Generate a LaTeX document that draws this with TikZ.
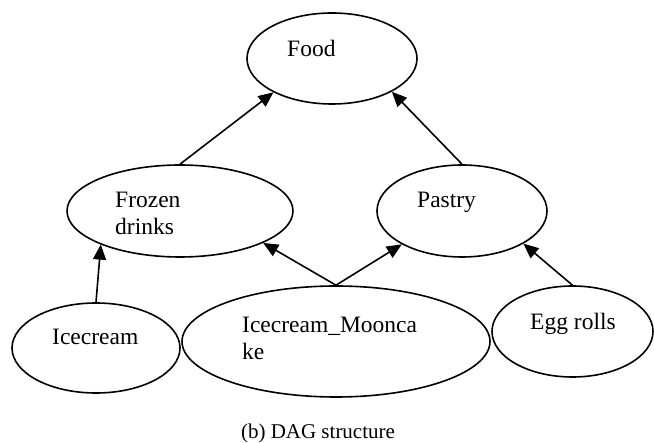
\documentclass[tikz,border=0pt]{standalone}
\usepackage{fontspec}
\setmainfont{Liberation Serif}
\usetikzlibrary{shapes.geometric,arrows.meta}
\tikzset{
  ell/.style={draw, ellipse, inner sep=0pt, line width=1.6pt},
  lbl/.style={anchor=base west, inner sep=0pt, font=\fontsize{23.5}{27}\selectfont},
  arr/.style={line width=1.6pt, -{Triangle[length=15pt,width=13pt]}}
}
\begin{document}
\begin{tikzpicture}[x=1pt,y=-1pt]
\useasboundingbox (0,0) rectangle (654,443);
% ellipses
\node[ell, minimum width=170pt, minimum height=91pt] (food) at (332,58.5) {};
\node[ell, minimum width=226pt, minimum height=92pt] (frozen) at (180,211) {};
\node[ell, minimum width=170pt, minimum height=92pt] (pastry) at (462,211) {};
\node[ell, minimum width=168pt, minimum height=90pt] (ice) at (96,348) {};
\node[ell, minimum width=308pt, minimum height=111pt] (moon) at (336,341.5) {};
\node[ell, minimum width=161pt, minimum height=91pt] (egg) at (572.5,331.5) {};
% labels
\node[lbl] (tfood) at (287,57) {Food};
\node[lbl] (tfrozen1) at (115,208) {Frozen};
\node[lbl] (tfrozen2) at (115,235) {drinks};
\node[lbl] (tpastry) at (417,208) {Pastry};
\node[lbl] (tice) at (52,345) {Icecream};
\node[lbl] (tmoon1) at (242,333) {Icecream\_Moonca};
\node[lbl] (tmoon2) at (242,360) {ke};
\node[lbl] (tegg) at (530,330) {Egg rolls};
\node[anchor=base, inner sep=0pt, font=\fontsize{21}{24}\selectfont] (cap) at (318,439) {(b) DAG structure};
% arrows
\draw[arr] (frozen.north) -- (food.210);
\draw[arr] (pastry.north) -- (food.331);
\draw[arr] (ice.north) -- (frozen.203);
\draw[arr] (moon.north) -- (frozen.339);
\draw[arr] (moon.north) -- (pastry.209);
\draw[arr] (egg.north) -- (pastry.332);
\end{tikzpicture}
\end{document}
